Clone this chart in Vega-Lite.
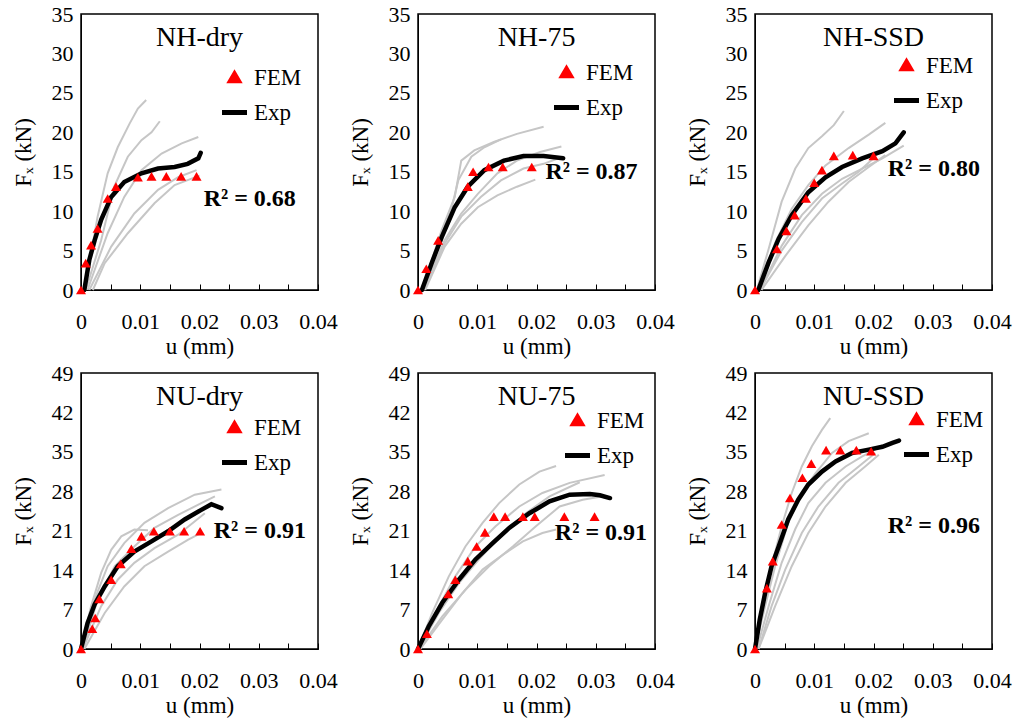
{
  "$schema": "https://vega.github.io/schema/vega-lite/v6.json",
  "background": "white",
  "padding": {"left": 11, "top": 2, "right": 5, "bottom": 5},
  "datasets": {
    "d": [
      {"p":"NH-dry","k":"g","s":1,"u":0.0006,"f":0},{"p":"NH-dry","k":"g","s":1,"u":0.0028,"f":9.3},{"p":"NH-dry","k":"g","s":1,"u":0.0045,"f":14.8},{"p":"NH-dry","k":"g","s":1,"u":0.0062,"f":18.1},{"p":"NH-dry","k":"g","s":1,"u":0.0082,"f":21.1},{"p":"NH-dry","k":"g","s":1,"u":0.0096,"f":23.0},{"p":"NH-dry","k":"g","s":1,"u":0.011,"f":24.1},
      {"p":"NH-dry","k":"g","s":2,"u":0.0008,"f":0},{"p":"NH-dry","k":"g","s":2,"u":0.0034,"f":6.3},{"p":"NH-dry","k":"g","s":2,"u":0.0056,"f":13.1},{"p":"NH-dry","k":"g","s":2,"u":0.0079,"f":16.9},{"p":"NH-dry","k":"g","s":2,"u":0.0102,"f":19.0},{"p":"NH-dry","k":"g","s":2,"u":0.0119,"f":20.0},{"p":"NH-dry","k":"g","s":2,"u":0.0133,"f":21.4},
      {"p":"NH-dry","k":"g","s":3,"u":0.0011,"f":0},{"p":"NH-dry","k":"g","s":3,"u":0.0045,"f":7.2},{"p":"NH-dry","k":"g","s":3,"u":0.0073,"f":11.8},{"p":"NH-dry","k":"g","s":3,"u":0.0102,"f":15.2},{"p":"NH-dry","k":"g","s":3,"u":0.0136,"f":17.3},{"p":"NH-dry","k":"g","s":3,"u":0.017,"f":18.6},{"p":"NH-dry","k":"g","s":3,"u":0.0198,"f":19.4},
      {"p":"NH-dry","k":"g","s":4,"u":0.0014,"f":0},{"p":"NH-dry","k":"g","s":4,"u":0.0051,"f":5.5},{"p":"NH-dry","k":"g","s":4,"u":0.009,"f":9.7},{"p":"NH-dry","k":"g","s":4,"u":0.013,"f":12.7},{"p":"NH-dry","k":"g","s":4,"u":0.0164,"f":14.3},{"p":"NH-dry","k":"g","s":4,"u":0.0195,"f":15.2},
      {"p":"NH-dry","k":"g","s":5,"u":0.002,"f":0},{"p":"NH-dry","k":"g","s":5,"u":0.004,"f":3.4},{"p":"NH-dry","k":"g","s":5,"u":0.0079,"f":7.2},{"p":"NH-dry","k":"g","s":5,"u":0.0124,"f":11.0},{"p":"NH-dry","k":"g","s":5,"u":0.0158,"f":13.3},{"p":"NH-dry","k":"g","s":5,"u":0.02,"f":14.5},
      {"p":"NH-dry","k":"Exp","u":0.00056,"f":0},{"p":"NH-dry","k":"Exp","u":0.0014,"f":3.8},{"p":"NH-dry","k":"Exp","u":0.0023,"f":6.3},{"p":"NH-dry","k":"Exp","u":0.0034,"f":8.9},{"p":"NH-dry","k":"Exp","u":0.0051,"f":11.8},{"p":"NH-dry","k":"Exp","u":0.0073,"f":13.7},{"p":"NH-dry","k":"Exp","u":0.0102,"f":14.8},{"p":"NH-dry","k":"Exp","u":0.013,"f":15.4},{"p":"NH-dry","k":"Exp","u":0.0158,"f":15.6},{"p":"NH-dry","k":"Exp","u":0.018,"f":16.0},{"p":"NH-dry","k":"Exp","u":0.0198,"f":16.7},{"p":"NH-dry","k":"Exp","u":0.0202,"f":17.4},
      {"p":"NH-dry","k":"FEM","u":0,"f":0},{"p":"NH-dry","k":"FEM","u":0.0008,"f":3.4},{"p":"NH-dry","k":"FEM","u":0.0017,"f":5.7},{"p":"NH-dry","k":"FEM","u":0.0028,"f":7.8},{"p":"NH-dry","k":"FEM","u":0.0045,"f":11.6},{"p":"NH-dry","k":"FEM","u":0.0059,"f":13.1},{"p":"NH-dry","k":"FEM","u":0.0096,"f":14.3},{"p":"NH-dry","k":"FEM","u":0.0119,"f":14.4},{"p":"NH-dry","k":"FEM","u":0.0144,"f":14.4},{"p":"NH-dry","k":"FEM","u":0.0169,"f":14.4},{"p":"NH-dry","k":"FEM","u":0.0195,"f":14.4},
      {"p":"NH-dry","k":"r2","t":"R² = 0.68","u":0.0207,"f":11.6},

      {"p":"NH-75","k":"g","s":1,"u":0.00066,"f":0},{"p":"NH-75","k":"g","s":1,"u":0.004,"f":7.6},{"p":"NH-75","k":"g","s":1,"u":0.0062,"f":11.8},{"p":"NH-75","k":"g","s":1,"u":0.0073,"f":16.4},{"p":"NH-75","k":"g","s":1,"u":0.0095,"f":17.7},{"p":"NH-75","k":"g","s":1,"u":0.0129,"f":18.8},{"p":"NH-75","k":"g","s":1,"u":0.0167,"f":19.8},{"p":"NH-75","k":"g","s":1,"u":0.0212,"f":20.7},
      {"p":"NH-75","k":"g","s":2,"u":0.00066,"f":0},{"p":"NH-75","k":"g","s":2,"u":0.004,"f":7.2},{"p":"NH-75","k":"g","s":2,"u":0.0057,"f":10.5},{"p":"NH-75","k":"g","s":2,"u":0.0068,"f":13.9},{"p":"NH-75","k":"g","s":2,"u":0.009,"f":16.9},{"p":"NH-75","k":"g","s":2,"u":0.0112,"f":18.1},{"p":"NH-75","k":"g","s":2,"u":0.014,"f":19.1},
      {"p":"NH-75","k":"g","s":3,"u":0.0009,"f":0},{"p":"NH-75","k":"g","s":3,"u":0.0045,"f":6.3},{"p":"NH-75","k":"g","s":3,"u":0.0073,"f":9.7},{"p":"NH-75","k":"g","s":3,"u":0.0101,"f":12.2},{"p":"NH-75","k":"g","s":3,"u":0.0134,"f":14.8},{"p":"NH-75","k":"g","s":3,"u":0.0167,"f":16.4},{"p":"NH-75","k":"g","s":3,"u":0.0206,"f":17.5},{"p":"NH-75","k":"g","s":3,"u":0.0242,"f":18.2},
      {"p":"NH-75","k":"g","s":4,"u":0.0012,"f":0},{"p":"NH-75","k":"g","s":4,"u":0.0045,"f":5.5},{"p":"NH-75","k":"g","s":4,"u":0.0073,"f":8.4},{"p":"NH-75","k":"g","s":4,"u":0.0101,"f":10.5},{"p":"NH-75","k":"g","s":4,"u":0.0134,"f":12.0},{"p":"NH-75","k":"g","s":4,"u":0.0167,"f":13.1},{"p":"NH-75","k":"g","s":4,"u":0.0198,"f":14.0},
      {"p":"NH-75","k":"g","s":5,"u":0.0009,"f":0},{"p":"NH-75","k":"g","s":5,"u":0.0045,"f":5.9},{"p":"NH-75","k":"g","s":5,"u":0.0073,"f":9.3},{"p":"NH-75","k":"g","s":5,"u":0.0106,"f":11.8},{"p":"NH-75","k":"g","s":5,"u":0.014,"f":13.9},{"p":"NH-75","k":"g","s":5,"u":0.0178,"f":15.4},{"p":"NH-75","k":"g","s":5,"u":0.0212,"f":16.0},{"p":"NH-75","k":"g","s":5,"u":0.0237,"f":16.7},
      {"p":"NH-75","k":"Exp","u":0.00066,"f":0},{"p":"NH-75","k":"Exp","u":0.0023,"f":3.4},{"p":"NH-75","k":"Exp","u":0.004,"f":6.7},{"p":"NH-75","k":"Exp","u":0.0062,"f":10.5},{"p":"NH-75","k":"Exp","u":0.0084,"f":13.1},{"p":"NH-75","k":"Exp","u":0.0112,"f":15.2},{"p":"NH-75","k":"Exp","u":0.0145,"f":16.4},{"p":"NH-75","k":"Exp","u":0.0178,"f":17.0},{"p":"NH-75","k":"Exp","u":0.0212,"f":17.0},{"p":"NH-75","k":"Exp","u":0.0245,"f":16.7},
      {"p":"NH-75","k":"FEM","u":0,"f":0},{"p":"NH-75","k":"FEM","u":0.0014,"f":2.7},{"p":"NH-75","k":"FEM","u":0.0034,"f":6.3},{"p":"NH-75","k":"FEM","u":0.0084,"f":13.1},{"p":"NH-75","k":"FEM","u":0.0093,"f":15.0},{"p":"NH-75","k":"FEM","u":0.0119,"f":15.6},{"p":"NH-75","k":"FEM","u":0.0143,"f":15.6},{"p":"NH-75","k":"FEM","u":0.0192,"f":15.6},
      {"p":"NH-75","k":"r2","t":"R² = 0.87","u":0.0215,"f":15.0},

      {"p":"NH-SSD","k":"g","s":1,"u":0.0003,"f":0},{"p":"NH-SSD","k":"g","s":1,"u":0.0023,"f":5.2},{"p":"NH-SSD","k":"g","s":1,"u":0.0045,"f":11.2},{"p":"NH-SSD","k":"g","s":1,"u":0.0068,"f":15.4},{"p":"NH-SSD","k":"g","s":1,"u":0.009,"f":18.0},{"p":"NH-SSD","k":"g","s":1,"u":0.0113,"f":19.5},{"p":"NH-SSD","k":"g","s":1,"u":0.0133,"f":20.9},{"p":"NH-SSD","k":"g","s":1,"u":0.015,"f":22.7},
      {"p":"NH-SSD","k":"g","s":2,"u":0.00056,"f":0},{"p":"NH-SSD","k":"g","s":2,"u":0.0034,"f":6.0},{"p":"NH-SSD","k":"g","s":2,"u":0.0062,"f":10.3},{"p":"NH-SSD","k":"g","s":2,"u":0.009,"f":13.3},{"p":"NH-SSD","k":"g","s":2,"u":0.0119,"f":15.8},{"p":"NH-SSD","k":"g","s":2,"u":0.0158,"f":18.0},{"p":"NH-SSD","k":"g","s":2,"u":0.0192,"f":19.7},{"p":"NH-SSD","k":"g","s":2,"u":0.022,"f":21.2},
      {"p":"NH-SSD","k":"g","s":3,"u":0.00085,"f":0},{"p":"NH-SSD","k":"g","s":3,"u":0.0045,"f":5.6},{"p":"NH-SSD","k":"g","s":3,"u":0.0079,"f":9.5},{"p":"NH-SSD","k":"g","s":3,"u":0.0113,"f":12.2},{"p":"NH-SSD","k":"g","s":3,"u":0.0147,"f":14.1},{"p":"NH-SSD","k":"g","s":3,"u":0.0181,"f":15.4},{"p":"NH-SSD","k":"g","s":3,"u":0.0215,"f":16.7},{"p":"NH-SSD","k":"g","s":3,"u":0.0251,"f":18.3},
      {"p":"NH-SSD","k":"g","s":4,"u":0.00085,"f":0},{"p":"NH-SSD","k":"g","s":4,"u":0.0045,"f":5.0},{"p":"NH-SSD","k":"g","s":4,"u":0.0079,"f":8.6},{"p":"NH-SSD","k":"g","s":4,"u":0.0113,"f":11.6},{"p":"NH-SSD","k":"g","s":4,"u":0.0147,"f":13.5},{"p":"NH-SSD","k":"g","s":4,"u":0.0175,"f":15.0},{"p":"NH-SSD","k":"g","s":4,"u":0.02,"f":16.7},
      {"p":"NH-SSD","k":"g","s":5,"u":0.0011,"f":0},{"p":"NH-SSD","k":"g","s":5,"u":0.0051,"f":4.3},{"p":"NH-SSD","k":"g","s":5,"u":0.009,"f":8.2},{"p":"NH-SSD","k":"g","s":5,"u":0.0124,"f":11.2},{"p":"NH-SSD","k":"g","s":5,"u":0.0158,"f":13.7},{"p":"NH-SSD","k":"g","s":5,"u":0.0192,"f":15.6},{"p":"NH-SSD","k":"g","s":5,"u":0.022,"f":17.1},
      {"p":"NH-SSD","k":"Exp","u":0.00056,"f":0},{"p":"NH-SSD","k":"Exp","u":0.0023,"f":3.5},{"p":"NH-SSD","k":"Exp","u":0.004,"f":6.5},{"p":"NH-SSD","k":"Exp","u":0.0062,"f":9.5},{"p":"NH-SSD","k":"Exp","u":0.009,"f":12.4},{"p":"NH-SSD","k":"Exp","u":0.0119,"f":14.3},{"p":"NH-SSD","k":"Exp","u":0.0147,"f":15.6},{"p":"NH-SSD","k":"Exp","u":0.0181,"f":16.7},{"p":"NH-SSD","k":"Exp","u":0.0215,"f":17.6},{"p":"NH-SSD","k":"Exp","u":0.0237,"f":18.6},{"p":"NH-SSD","k":"Exp","u":0.0251,"f":20.0},
      {"p":"NH-SSD","k":"FEM","u":0,"f":0},{"p":"NH-SSD","k":"FEM","u":0.0037,"f":5.2},{"p":"NH-SSD","k":"FEM","u":0.0053,"f":7.5},{"p":"NH-SSD","k":"FEM","u":0.0067,"f":9.5},{"p":"NH-SSD","k":"FEM","u":0.0086,"f":11.6},{"p":"NH-SSD","k":"FEM","u":0.01,"f":13.6},{"p":"NH-SSD","k":"FEM","u":0.0113,"f":15.2},{"p":"NH-SSD","k":"FEM","u":0.0133,"f":17.0},{"p":"NH-SSD","k":"FEM","u":0.0165,"f":17.1},{"p":"NH-SSD","k":"FEM","u":0.02,"f":17.0},
      {"p":"NH-SSD","k":"r2","t":"R² = 0.80","u":0.0224,"f":15.4},

      {"p":"NU-dry","k":"g","s":1,"u":0,"f":0},{"p":"NU-dry","k":"g","s":1,"u":0.0017,"f":7.6},{"p":"NU-dry","k":"g","s":1,"u":0.0034,"f":13.5},{"p":"NU-dry","k":"g","s":1,"u":0.0051,"f":17.6},{"p":"NU-dry","k":"g","s":1,"u":0.0068,"f":20.0},{"p":"NU-dry","k":"g","s":1,"u":0.009,"f":21.2},{"p":"NU-dry","k":"g","s":1,"u":0.0113,"f":21.1},
      {"p":"NU-dry","k":"g","s":2,"u":0,"f":0},{"p":"NU-dry","k":"g","s":2,"u":0.0023,"f":8.8},{"p":"NU-dry","k":"g","s":2,"u":0.0045,"f":14.7},{"p":"NU-dry","k":"g","s":2,"u":0.0073,"f":18.8},{"p":"NU-dry","k":"g","s":2,"u":0.0107,"f":22.4},{"p":"NU-dry","k":"g","s":2,"u":0.0147,"f":25.0},{"p":"NU-dry","k":"g","s":2,"u":0.0192,"f":27.4},{"p":"NU-dry","k":"g","s":2,"u":0.0237,"f":28.3},
      {"p":"NU-dry","k":"g","s":3,"u":0.0003,"f":0},{"p":"NU-dry","k":"g","s":3,"u":0.0028,"f":8.8},{"p":"NU-dry","k":"g","s":3,"u":0.0057,"f":14.7},{"p":"NU-dry","k":"g","s":3,"u":0.009,"f":18.2},{"p":"NU-dry","k":"g","s":3,"u":0.0124,"f":21.5},{"p":"NU-dry","k":"g","s":3,"u":0.0164,"f":23.8},{"p":"NU-dry","k":"g","s":3,"u":0.0203,"f":25.9},{"p":"NU-dry","k":"g","s":3,"u":0.0226,"f":27.1},
      {"p":"NU-dry","k":"g","s":4,"u":0.0003,"f":0},{"p":"NU-dry","k":"g","s":4,"u":0.0034,"f":7.6},{"p":"NU-dry","k":"g","s":4,"u":0.0062,"f":12.3},{"p":"NU-dry","k":"g","s":4,"u":0.009,"f":15.3},{"p":"NU-dry","k":"g","s":4,"u":0.0124,"f":17.9},{"p":"NU-dry","k":"g","s":4,"u":0.0164,"f":20.3},{"p":"NU-dry","k":"g","s":4,"u":0.0209,"f":24.1},
      {"p":"NU-dry","k":"g","s":5,"u":0.00056,"f":0},{"p":"NU-dry","k":"g","s":5,"u":0.004,"f":6.4},{"p":"NU-dry","k":"g","s":5,"u":0.0073,"f":11.1},{"p":"NU-dry","k":"g","s":5,"u":0.0107,"f":14.7},{"p":"NU-dry","k":"g","s":5,"u":0.0147,"f":17.3},{"p":"NU-dry","k":"g","s":5,"u":0.0181,"f":19.4},{"p":"NU-dry","k":"g","s":5,"u":0.0203,"f":20.6},
      {"p":"NU-dry","k":"Exp","u":0,"f":0},{"p":"NU-dry","k":"Exp","u":0.0011,"f":4.6},{"p":"NU-dry","k":"Exp","u":0.0023,"f":7.9},{"p":"NU-dry","k":"Exp","u":0.004,"f":11.1},{"p":"NU-dry","k":"Exp","u":0.0062,"f":14.7},{"p":"NU-dry","k":"Exp","u":0.009,"f":17.3},{"p":"NU-dry","k":"Exp","u":0.0119,"f":19.1},{"p":"NU-dry","k":"Exp","u":0.0147,"f":20.9},{"p":"NU-dry","k":"Exp","u":0.0175,"f":23.0},{"p":"NU-dry","k":"Exp","u":0.0203,"f":24.7},{"p":"NU-dry","k":"Exp","u":0.022,"f":25.7},{"p":"NU-dry","k":"Exp","u":0.0237,"f":25.0},
      {"p":"NU-dry","k":"FEM","u":0,"f":0},{"p":"NU-dry","k":"FEM","u":0.0019,"f":3.6},{"p":"NU-dry","k":"FEM","u":0.0024,"f":5.5},{"p":"NU-dry","k":"FEM","u":0.0031,"f":8.9},{"p":"NU-dry","k":"FEM","u":0.0051,"f":12.3},{"p":"NU-dry","k":"FEM","u":0.0067,"f":15.1},{"p":"NU-dry","k":"FEM","u":0.0085,"f":17.8},{"p":"NU-dry","k":"FEM","u":0.0102,"f":20.0},{"p":"NU-dry","k":"FEM","u":0.0123,"f":20.9},{"p":"NU-dry","k":"FEM","u":0.015,"f":20.9},{"p":"NU-dry","k":"FEM","u":0.0174,"f":20.9},{"p":"NU-dry","k":"FEM","u":0.0201,"f":20.9},
      {"p":"NU-dry","k":"r2","t":"R² = 0.91","u":0.0224,"f":20.9},

      {"p":"NU-75","k":"g","s":1,"u":0,"f":0},{"p":"NU-75","k":"g","s":1,"u":0.0024,"f":6.4},{"p":"NU-75","k":"g","s":1,"u":0.0052,"f":12.9},{"p":"NU-75","k":"g","s":1,"u":0.008,"f":18.2},{"p":"NU-75","k":"g","s":1,"u":0.0109,"f":22.4},{"p":"NU-75","k":"g","s":1,"u":0.0137,"f":25.9},{"p":"NU-75","k":"g","s":1,"u":0.0171,"f":29.2},{"p":"NU-75","k":"g","s":1,"u":0.0205,"f":31.5},{"p":"NU-75","k":"g","s":1,"u":0.0233,"f":32.5},
      {"p":"NU-75","k":"g","s":2,"u":0,"f":0},{"p":"NU-75","k":"g","s":2,"u":0.0029,"f":6.4},{"p":"NU-75","k":"g","s":2,"u":0.0063,"f":12.9},{"p":"NU-75","k":"g","s":2,"u":0.0097,"f":18.2},{"p":"NU-75","k":"g","s":2,"u":0.0131,"f":21.8},{"p":"NU-75","k":"g","s":2,"u":0.0171,"f":25.3},{"p":"NU-75","k":"g","s":2,"u":0.021,"f":27.7},{"p":"NU-75","k":"g","s":2,"u":0.0256,"f":29.5},{"p":"NU-75","k":"g","s":2,"u":0.0315,"f":30.9},
      {"p":"NU-75","k":"g","s":3,"u":0.0001,"f":0},{"p":"NU-75","k":"g","s":3,"u":0.0035,"f":6.4},{"p":"NU-75","k":"g","s":3,"u":0.0069,"f":11.7},{"p":"NU-75","k":"g","s":3,"u":0.0103,"f":15.9},{"p":"NU-75","k":"g","s":3,"u":0.0143,"f":20.6},{"p":"NU-75","k":"g","s":3,"u":0.0182,"f":24.1},{"p":"NU-75","k":"g","s":3,"u":0.0222,"f":27.1},{"p":"NU-75","k":"g","s":3,"u":0.0273,"f":29.6},
      {"p":"NU-75","k":"g","s":4,"u":0.0002,"f":0},{"p":"NU-75","k":"g","s":4,"u":0.0041,"f":5.8},{"p":"NU-75","k":"g","s":4,"u":0.008,"f":10.5},{"p":"NU-75","k":"g","s":4,"u":0.012,"f":14.7},{"p":"NU-75","k":"g","s":4,"u":0.016,"f":18.2},{"p":"NU-75","k":"g","s":4,"u":0.0199,"f":21.8},{"p":"NU-75","k":"g","s":4,"u":0.0239,"f":25.3},{"p":"NU-75","k":"g","s":4,"u":0.0278,"f":26.5},{"p":"NU-75","k":"g","s":4,"u":0.0312,"f":27.1},
      {"p":"NU-75","k":"g","s":5,"u":0.0004,"f":0},{"p":"NU-75","k":"g","s":5,"u":0.0041,"f":5.2},{"p":"NU-75","k":"g","s":5,"u":0.0075,"f":9.9},{"p":"NU-75","k":"g","s":5,"u":0.0109,"f":14.1},{"p":"NU-75","k":"g","s":5,"u":0.0143,"f":16.7},{"p":"NU-75","k":"g","s":5,"u":0.0177,"f":19.1},{"p":"NU-75","k":"g","s":5,"u":0.021,"f":20.6},{"p":"NU-75","k":"g","s":5,"u":0.0233,"f":21.2},
      {"p":"NU-75","k":"Exp","u":0,"f":0},{"p":"NU-75","k":"Exp","u":0.0018,"f":4.0},{"p":"NU-75","k":"Exp","u":0.0041,"f":8.2},{"p":"NU-75","k":"Exp","u":0.0069,"f":12.3},{"p":"NU-75","k":"Exp","u":0.0097,"f":15.9},{"p":"NU-75","k":"Exp","u":0.0126,"f":18.8},{"p":"NU-75","k":"Exp","u":0.0154,"f":21.5},{"p":"NU-75","k":"Exp","u":0.0188,"f":24.1},{"p":"NU-75","k":"Exp","u":0.0222,"f":26.2},{"p":"NU-75","k":"Exp","u":0.0256,"f":27.4},{"p":"NU-75","k":"Exp","u":0.029,"f":27.5},{"p":"NU-75","k":"Exp","u":0.0307,"f":27.3},{"p":"NU-75","k":"Exp","u":0.0324,"f":26.8},
      {"p":"NU-75","k":"FEM","u":0,"f":0},{"p":"NU-75","k":"FEM","u":0.0015,"f":2.7},{"p":"NU-75","k":"FEM","u":0.0051,"f":9.8},{"p":"NU-75","k":"FEM","u":0.0063,"f":12.3},{"p":"NU-75","k":"FEM","u":0.0084,"f":15.6},{"p":"NU-75","k":"FEM","u":0.0099,"f":18.2},{"p":"NU-75","k":"FEM","u":0.0113,"f":20.7},{"p":"NU-75","k":"FEM","u":0.0128,"f":23.5},{"p":"NU-75","k":"FEM","u":0.0147,"f":23.5},{"p":"NU-75","k":"FEM","u":0.0177,"f":23.5},{"p":"NU-75","k":"FEM","u":0.0197,"f":23.5},{"p":"NU-75","k":"FEM","u":0.0247,"f":23.5},{"p":"NU-75","k":"FEM","u":0.0298,"f":23.5},
      {"p":"NU-75","k":"r2","t":"R² = 0.91","u":0.0231,"f":20.6},

      {"p":"NU-SSD","k":"g","s":1,"u":0,"f":0},{"p":"NU-SSD","k":"g","s":1,"u":0.0011,"f":6.4},{"p":"NU-SSD","k":"g","s":1,"u":0.0028,"f":14.7},{"p":"NU-SSD","k":"g","s":1,"u":0.0045,"f":21.8},{"p":"NU-SSD","k":"g","s":1,"u":0.0062,"f":27.7},{"p":"NU-SSD","k":"g","s":1,"u":0.0079,"f":32.4},{"p":"NU-SSD","k":"g","s":1,"u":0.0096,"f":36.0},{"p":"NU-SSD","k":"g","s":1,"u":0.0113,"f":38.9},{"p":"NU-SSD","k":"g","s":1,"u":0.0127,"f":41.0},
      {"p":"NU-SSD","k":"g","s":2,"u":0,"f":0},{"p":"NU-SSD","k":"g","s":2,"u":0.0017,"f":7.6},{"p":"NU-SSD","k":"g","s":2,"u":0.0034,"f":14.7},{"p":"NU-SSD","k":"g","s":2,"u":0.0056,"f":22.4},{"p":"NU-SSD","k":"g","s":2,"u":0.0079,"f":27.7},{"p":"NU-SSD","k":"g","s":2,"u":0.0102,"f":31.2},{"p":"NU-SSD","k":"g","s":2,"u":0.013,"f":34.8},{"p":"NU-SSD","k":"g","s":2,"u":0.0158,"f":36.9},{"p":"NU-SSD","k":"g","s":2,"u":0.0192,"f":38.3},
      {"p":"NU-SSD","k":"g","s":3,"u":0.0003,"f":0},{"p":"NU-SSD","k":"g","s":3,"u":0.0023,"f":7.6},{"p":"NU-SSD","k":"g","s":3,"u":0.0045,"f":15.3},{"p":"NU-SSD","k":"g","s":3,"u":0.0068,"f":21.3},{"p":"NU-SSD","k":"g","s":3,"u":0.009,"f":25.9},{"p":"NU-SSD","k":"g","s":3,"u":0.0119,"f":29.5},{"p":"NU-SSD","k":"g","s":3,"u":0.0153,"f":32.4},{"p":"NU-SSD","k":"g","s":3,"u":0.0181,"f":34.2},{"p":"NU-SSD","k":"g","s":3,"u":0.0203,"f":35.4},
      {"p":"NU-SSD","k":"g","s":4,"u":0.0006,"f":0},{"p":"NU-SSD","k":"g","s":4,"u":0.0028,"f":7.6},{"p":"NU-SSD","k":"g","s":4,"u":0.0051,"f":14.1},{"p":"NU-SSD","k":"g","s":4,"u":0.0079,"f":20.6},{"p":"NU-SSD","k":"g","s":4,"u":0.0107,"f":25.3},{"p":"NU-SSD","k":"g","s":4,"u":0.0141,"f":29.5},{"p":"NU-SSD","k":"g","s":4,"u":0.0175,"f":32.4},{"p":"NU-SSD","k":"g","s":4,"u":0.0203,"f":34.8},
      {"p":"NU-SSD","k":"g","s":5,"u":0.0006,"f":0},{"p":"NU-SSD","k":"g","s":5,"u":0.0034,"f":7.6},{"p":"NU-SSD","k":"g","s":5,"u":0.0062,"f":14.7},{"p":"NU-SSD","k":"g","s":5,"u":0.009,"f":20.6},{"p":"NU-SSD","k":"g","s":5,"u":0.0119,"f":25.3},{"p":"NU-SSD","k":"g","s":5,"u":0.0153,"f":29.5},{"p":"NU-SSD","k":"g","s":5,"u":0.0186,"f":32.4},{"p":"NU-SSD","k":"g","s":5,"u":0.0209,"f":34.5},
      {"p":"NU-SSD","k":"Exp","u":0,"f":0},{"p":"NU-SSD","k":"Exp","u":0.0008,"f":5.2},{"p":"NU-SSD","k":"Exp","u":0.0017,"f":9.9},{"p":"NU-SSD","k":"Exp","u":0.0028,"f":14.7},{"p":"NU-SSD","k":"Exp","u":0.004,"f":18.2},{"p":"NU-SSD","k":"Exp","u":0.0056,"f":23.0},{"p":"NU-SSD","k":"Exp","u":0.0073,"f":26.5},{"p":"NU-SSD","k":"Exp","u":0.009,"f":29.2},{"p":"NU-SSD","k":"Exp","u":0.0113,"f":31.5},{"p":"NU-SSD","k":"Exp","u":0.0136,"f":33.3},{"p":"NU-SSD","k":"Exp","u":0.0164,"f":34.8},{"p":"NU-SSD","k":"Exp","u":0.0192,"f":35.4},{"p":"NU-SSD","k":"Exp","u":0.0215,"f":35.9},{"p":"NU-SSD","k":"Exp","u":0.0232,"f":36.6},{"p":"NU-SSD","k":"Exp","u":0.0243,"f":37.0},
      {"p":"NU-SSD","k":"FEM","u":0,"f":0},{"p":"NU-SSD","k":"FEM","u":0.002,"f":10.8},{"p":"NU-SSD","k":"FEM","u":0.003,"f":15.6},{"p":"NU-SSD","k":"FEM","u":0.0045,"f":22.1},{"p":"NU-SSD","k":"FEM","u":0.0059,"f":26.8},{"p":"NU-SSD","k":"FEM","u":0.008,"f":30.4},{"p":"NU-SSD","k":"FEM","u":0.0095,"f":32.9},{"p":"NU-SSD","k":"FEM","u":0.012,"f":35.3},{"p":"NU-SSD","k":"FEM","u":0.0144,"f":35.3},{"p":"NU-SSD","k":"FEM","u":0.0171,"f":35.3},{"p":"NU-SSD","k":"FEM","u":0.0196,"f":35.1},
      {"p":"NU-SSD","k":"r2","t":"R² = 0.96","u":0.0224,"f":21.8}
    ]
  },
  "data": {"name": "d"},
  "columns": 3,
  "spacing": {"row": 83, "column": 100},
  "bounds": "flush",
  "resolve": {"scale": {"color": "independent", "x": "independent", "y": "independent"}, "legend": {"color": "independent"}},
  "concat": [
    {
      "title": {"text": "NH-dry"},
      "width": 237, "height": 276,
      "transform": [{"filter": "datum.p === 'NH-dry'"}],
      "encoding": {
        "x": {"field": "u", "type": "quantitative", "scale": {"domain": [0, 0.04], "nice": false, "zero": false}, "axis": {"title": "u (mm)", "values": [0, 0.005, 0.01, 0.015, 0.02, 0.025, 0.03, 0.035, 0.04], "format": "~g", "labelExpr": "round(datum.value*200) % 2 === 0 ? datum.label : ''"}},
        "y": {"field": "f", "type": "quantitative", "scale": {"domain": [0, 35], "nice": false}, "axis": {"title": "Fₓ (kN)", "values": [0, 5, 10, 15, 20, 25, 30, 35]}}
      },
      "layer": [
        {"transform": [{"filter": "datum.k === 'g'"}], "mark": {"type": "line", "color": "#c6c6c6", "strokeWidth": 2}, "encoding": {"detail": {"field": "s"}}},
        {"transform": [{"filter": "datum.k === 'Exp'"}], "mark": {"type": "line", "strokeWidth": 4.5, "strokeCap": "round"}, "encoding": {"color": {"field": "k", "type": "nominal", "scale": {"domain": ["FEM", "Exp"], "range": ["#ff0000", "#000000"]}, "legend": {"legendX": 142, "legendY": 52, "encode": {"symbols": {"update": {"shape": {"signal": "datum.value === 'Exp' ? 'stroke' : 'triangle-up'"}, "size": {"signal": "datum.value === 'Exp' ? 625 : 60"}, "fill": {"signal": "datum.value === 'Exp' ? 'transparent' : '#ff0000'"}, "stroke": {"signal": "datum.value === 'Exp' ? '#000000' : 'transparent'"}, "strokeWidth": {"value": 5}, "opacity": {"value": 1}}}}}}}},
        {"transform": [{"filter": "datum.k === 'FEM'"}], "mark": {"type": "point", "shape": "triangle-up", "filled": true, "size": 100, "opacity": 1}, "encoding": {"color": {"field": "k", "type": "nominal", "scale": {"domain": ["FEM", "Exp"], "range": ["#ff0000", "#000000"]}}}},
        {"transform": [{"filter": "datum.k === 'r2'"}], "mark": {"type": "text", "align": "left", "baseline": "middle", "fontWeight": "bold", "fontSize": 24, "font": "Liberation Serif", "color": "black"}, "encoding": {"text": {"field": "t"}}}
      ]
    },
    {
      "title": {"text": "NH-75"},
      "width": 237, "height": 276,
      "transform": [{"filter": "datum.p === 'NH-75'"}],
      "encoding": {
        "x": {"field": "u", "type": "quantitative", "scale": {"domain": [0, 0.04], "nice": false, "zero": false}, "axis": {"title": "u (mm)", "values": [0, 0.005, 0.01, 0.015, 0.02, 0.025, 0.03, 0.035, 0.04], "format": "~g", "labelExpr": "round(datum.value*200) % 2 === 0 ? datum.label : ''"}},
        "y": {"field": "f", "type": "quantitative", "scale": {"domain": [0, 35], "nice": false}, "axis": {"title": "Fₓ (kN)", "values": [0, 5, 10, 15, 20, 25, 30, 35]}}
      },
      "layer": [
        {"transform": [{"filter": "datum.k === 'g'"}], "mark": {"type": "line", "color": "#c6c6c6", "strokeWidth": 2}, "encoding": {"detail": {"field": "s"}}},
        {"transform": [{"filter": "datum.k === 'Exp'"}], "mark": {"type": "line", "strokeWidth": 4.5, "strokeCap": "round"}, "encoding": {"color": {"field": "k", "type": "nominal", "scale": {"domain": ["FEM", "Exp"], "range": ["#ff0000", "#000000"]}, "legend": {"legendX": 137, "legendY": 47, "encode": {"symbols": {"update": {"shape": {"signal": "datum.value === 'Exp' ? 'stroke' : 'triangle-up'"}, "size": {"signal": "datum.value === 'Exp' ? 625 : 60"}, "fill": {"signal": "datum.value === 'Exp' ? 'transparent' : '#ff0000'"}, "stroke": {"signal": "datum.value === 'Exp' ? '#000000' : 'transparent'"}, "strokeWidth": {"value": 5}, "opacity": {"value": 1}}}}}}}},
        {"transform": [{"filter": "datum.k === 'FEM'"}], "mark": {"type": "point", "shape": "triangle-up", "filled": true, "size": 100, "opacity": 1}, "encoding": {"color": {"field": "k", "type": "nominal", "scale": {"domain": ["FEM", "Exp"], "range": ["#ff0000", "#000000"]}}}},
        {"transform": [{"filter": "datum.k === 'r2'"}], "mark": {"type": "text", "align": "left", "baseline": "middle", "fontWeight": "bold", "fontSize": 24, "font": "Liberation Serif", "color": "black"}, "encoding": {"text": {"field": "t"}}}
      ]
    },
    {
      "title": {"text": "NH-SSD"},
      "width": 237, "height": 276,
      "transform": [{"filter": "datum.p === 'NH-SSD'"}],
      "encoding": {
        "x": {"field": "u", "type": "quantitative", "scale": {"domain": [0, 0.04], "nice": false, "zero": false}, "axis": {"title": "u (mm)", "values": [0, 0.005, 0.01, 0.015, 0.02, 0.025, 0.03, 0.035, 0.04], "format": "~g", "labelExpr": "round(datum.value*200) % 2 === 0 ? datum.label : ''"}},
        "y": {"field": "f", "type": "quantitative", "scale": {"domain": [0, 35], "nice": false}, "axis": {"title": "Fₓ (kN)", "values": [0, 5, 10, 15, 20, 25, 30, 35]}}
      },
      "layer": [
        {"transform": [{"filter": "datum.k === 'g'"}], "mark": {"type": "line", "color": "#c6c6c6", "strokeWidth": 2}, "encoding": {"detail": {"field": "s"}}},
        {"transform": [{"filter": "datum.k === 'Exp'"}], "mark": {"type": "line", "strokeWidth": 4.5, "strokeCap": "round"}, "encoding": {"color": {"field": "k", "type": "nominal", "scale": {"domain": ["FEM", "Exp"], "range": ["#ff0000", "#000000"]}, "legend": {"legendX": 140, "legendY": 40, "encode": {"symbols": {"update": {"shape": {"signal": "datum.value === 'Exp' ? 'stroke' : 'triangle-up'"}, "size": {"signal": "datum.value === 'Exp' ? 625 : 60"}, "fill": {"signal": "datum.value === 'Exp' ? 'transparent' : '#ff0000'"}, "stroke": {"signal": "datum.value === 'Exp' ? '#000000' : 'transparent'"}, "strokeWidth": {"value": 5}, "opacity": {"value": 1}}}}}}}},
        {"transform": [{"filter": "datum.k === 'FEM'"}], "mark": {"type": "point", "shape": "triangle-up", "filled": true, "size": 100, "opacity": 1}, "encoding": {"color": {"field": "k", "type": "nominal", "scale": {"domain": ["FEM", "Exp"], "range": ["#ff0000", "#000000"]}}}},
        {"transform": [{"filter": "datum.k === 'r2'"}], "mark": {"type": "text", "align": "left", "baseline": "middle", "fontWeight": "bold", "fontSize": 24, "font": "Liberation Serif", "color": "black"}, "encoding": {"text": {"field": "t"}}}
      ]
    },
    {
      "title": {"text": "NU-dry"},
      "width": 237, "height": 276,
      "transform": [{"filter": "datum.p === 'NU-dry'"}],
      "encoding": {
        "x": {"field": "u", "type": "quantitative", "scale": {"domain": [0, 0.04], "nice": false, "zero": false}, "axis": {"title": "u (mm)", "values": [0, 0.005, 0.01, 0.015, 0.02, 0.025, 0.03, 0.035, 0.04], "format": "~g", "labelExpr": "round(datum.value*200) % 2 === 0 ? datum.label : ''"}},
        "y": {"field": "f", "type": "quantitative", "scale": {"domain": [0, 49], "nice": false}, "axis": {"title": "Fₓ (kN)", "values": [0, 7, 14, 21, 28, 35, 42, 49]}}
      },
      "layer": [
        {"transform": [{"filter": "datum.k === 'g'"}], "mark": {"type": "line", "color": "#c6c6c6", "strokeWidth": 2}, "encoding": {"detail": {"field": "s"}}},
        {"transform": [{"filter": "datum.k === 'Exp'"}], "mark": {"type": "line", "strokeWidth": 4.5, "strokeCap": "round"}, "encoding": {"color": {"field": "k", "type": "nominal", "scale": {"domain": ["FEM", "Exp"], "range": ["#ff0000", "#000000"]}, "legend": {"legendX": 142, "legendY": 43, "encode": {"symbols": {"update": {"shape": {"signal": "datum.value === 'Exp' ? 'stroke' : 'triangle-up'"}, "size": {"signal": "datum.value === 'Exp' ? 625 : 60"}, "fill": {"signal": "datum.value === 'Exp' ? 'transparent' : '#ff0000'"}, "stroke": {"signal": "datum.value === 'Exp' ? '#000000' : 'transparent'"}, "strokeWidth": {"value": 5}, "opacity": {"value": 1}}}}}}}},
        {"transform": [{"filter": "datum.k === 'FEM'"}], "mark": {"type": "point", "shape": "triangle-up", "filled": true, "size": 100, "opacity": 1}, "encoding": {"color": {"field": "k", "type": "nominal", "scale": {"domain": ["FEM", "Exp"], "range": ["#ff0000", "#000000"]}}}},
        {"transform": [{"filter": "datum.k === 'r2'"}], "mark": {"type": "text", "align": "left", "baseline": "middle", "fontWeight": "bold", "fontSize": 24, "font": "Liberation Serif", "color": "black"}, "encoding": {"text": {"field": "t"}}}
      ]
    },
    {
      "title": {"text": "NU-75"},
      "width": 237, "height": 276,
      "transform": [{"filter": "datum.p === 'NU-75'"}],
      "encoding": {
        "x": {"field": "u", "type": "quantitative", "scale": {"domain": [0, 0.04], "nice": false, "zero": false}, "axis": {"title": "u (mm)", "values": [0, 0.005, 0.01, 0.015, 0.02, 0.025, 0.03, 0.035, 0.04], "format": "~g", "labelExpr": "round(datum.value*200) % 2 === 0 ? datum.label : ''"}},
        "y": {"field": "f", "type": "quantitative", "scale": {"domain": [0, 49], "nice": false}, "axis": {"title": "Fₓ (kN)", "values": [0, 7, 14, 21, 28, 35, 42, 49]}}
      },
      "layer": [
        {"transform": [{"filter": "datum.k === 'g'"}], "mark": {"type": "line", "color": "#c6c6c6", "strokeWidth": 2}, "encoding": {"detail": {"field": "s"}}},
        {"transform": [{"filter": "datum.k === 'Exp'"}], "mark": {"type": "line", "strokeWidth": 4.5, "strokeCap": "round"}, "encoding": {"color": {"field": "k", "type": "nominal", "scale": {"domain": ["FEM", "Exp"], "range": ["#ff0000", "#000000"]}, "legend": {"legendX": 148, "legendY": 36, "encode": {"symbols": {"update": {"shape": {"signal": "datum.value === 'Exp' ? 'stroke' : 'triangle-up'"}, "size": {"signal": "datum.value === 'Exp' ? 625 : 60"}, "fill": {"signal": "datum.value === 'Exp' ? 'transparent' : '#ff0000'"}, "stroke": {"signal": "datum.value === 'Exp' ? '#000000' : 'transparent'"}, "strokeWidth": {"value": 5}, "opacity": {"value": 1}}}}}}}},
        {"transform": [{"filter": "datum.k === 'FEM'"}], "mark": {"type": "point", "shape": "triangle-up", "filled": true, "size": 100, "opacity": 1}, "encoding": {"color": {"field": "k", "type": "nominal", "scale": {"domain": ["FEM", "Exp"], "range": ["#ff0000", "#000000"]}}}},
        {"transform": [{"filter": "datum.k === 'r2'"}], "mark": {"type": "text", "align": "left", "baseline": "middle", "fontWeight": "bold", "fontSize": 24, "font": "Liberation Serif", "color": "black"}, "encoding": {"text": {"field": "t"}}}
      ]
    },
    {
      "title": {"text": "NU-SSD"},
      "width": 237, "height": 276,
      "transform": [{"filter": "datum.p === 'NU-SSD'"}],
      "encoding": {
        "x": {"field": "u", "type": "quantitative", "scale": {"domain": [0, 0.04], "nice": false, "zero": false}, "axis": {"title": "u (mm)", "values": [0, 0.005, 0.01, 0.015, 0.02, 0.025, 0.03, 0.035, 0.04], "format": "~g", "labelExpr": "round(datum.value*200) % 2 === 0 ? datum.label : ''"}},
        "y": {"field": "f", "type": "quantitative", "scale": {"domain": [0, 49], "nice": false}, "axis": {"title": "Fₓ (kN)", "values": [0, 7, 14, 21, 28, 35, 42, 49]}}
      },
      "layer": [
        {"transform": [{"filter": "datum.k === 'g'"}], "mark": {"type": "line", "color": "#c6c6c6", "strokeWidth": 2}, "encoding": {"detail": {"field": "s"}}},
        {"transform": [{"filter": "datum.k === 'Exp'"}], "mark": {"type": "line", "strokeWidth": 4.5, "strokeCap": "round"}, "encoding": {"color": {"field": "k", "type": "nominal", "scale": {"domain": ["FEM", "Exp"], "range": ["#ff0000", "#000000"]}, "legend": {"legendX": 150, "legendY": 35, "encode": {"symbols": {"update": {"shape": {"signal": "datum.value === 'Exp' ? 'stroke' : 'triangle-up'"}, "size": {"signal": "datum.value === 'Exp' ? 625 : 60"}, "fill": {"signal": "datum.value === 'Exp' ? 'transparent' : '#ff0000'"}, "stroke": {"signal": "datum.value === 'Exp' ? '#000000' : 'transparent'"}, "strokeWidth": {"value": 5}, "opacity": {"value": 1}}}}}}}},
        {"transform": [{"filter": "datum.k === 'FEM'"}], "mark": {"type": "point", "shape": "triangle-up", "filled": true, "size": 100, "opacity": 1}, "encoding": {"color": {"field": "k", "type": "nominal", "scale": {"domain": ["FEM", "Exp"], "range": ["#ff0000", "#000000"]}}}},
        {"transform": [{"filter": "datum.k === 'r2'"}], "mark": {"type": "text", "align": "left", "baseline": "middle", "fontWeight": "bold", "fontSize": 24, "font": "Liberation Serif", "color": "black"}, "encoding": {"text": {"field": "t"}}}
      ]
    }
  ],
  "config": {
    "font": "Liberation Serif",
    "view": {"stroke": "black", "strokeWidth": 1.5},
    "axis": {"labelFont": "Liberation Serif", "labelFontSize": 22, "labelColor": "black", "titleFont": "Liberation Serif", "titleFontSize": 23, "titleFontWeight": "normal", "titleColor": "black", "grid": false, "domainColor": "black", "tickColor": "black", "labelOverlap": false, "labelFlush": false},
    "axisX": {"tickSize": -6, "labelPadding": 27, "titlePadding": 3},
    "axisY": {"ticks": false, "labelPadding": 8, "titlePadding": 16},
    "title": {"font": "Liberation Serif", "fontSize": 28, "fontWeight": "normal", "color": "black", "anchor": "middle", "frame": "group", "baseline": "alphabetic", "offset": 0, "dy": 53},
    "legend": {"orient": "none", "title": null, "padding": 0, "rowPadding": 10, "labelFont": "Liberation Serif", "labelFontSize": 23, "labelColor": "black", "symbolSize": 625, "labelOffset": 8}
  }
}
